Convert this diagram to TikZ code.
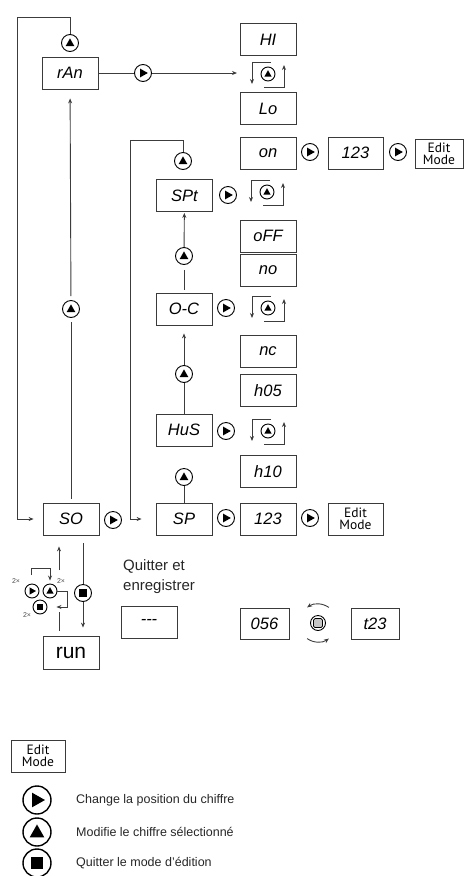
\documentclass[tikz,border=0pt]{standalone}
\usepackage{fontspec}
\setmainfont{Liberation Sans}
\newfontfamily\segfont{Liberation Sans}
\newfontfamily\editfont{PT Sans}
\usetikzlibrary{arrows.meta,calc}
\definecolor{lc}{HTML}{3C3C3C}
\definecolor{bc}{HTML}{3A3A3A}
\newcommand{\cycsym}[3]{%
  \node[bU=7pt] (#1) at (#2,#3) {};
  \draw[arr] ([shift={(3pt,12pt)}]#1.center) -| ([shift={(-16pt,-10pt)}]#1.center);
  \draw[arr] ([shift={(-4pt,-13pt)}]#1.center) -| ([shift={(16pt,9pt)}]#1.center);}
\begin{document}
\begin{tikzpicture}[x=1pt,y=-1pt,
  seg/.style={draw=bc, line width=0.8pt, minimum width=56pt, minimum height=32pt, inner sep=0pt,
    font=\segfont\itshape\fontsize{16.5}{16.5}\selectfont},
  ed/.style={draw=bc, line width=0.8pt, inner sep=0pt, align=center,
    font=\editfont\fontsize{13.5}{12}\selectfont},
  ln/.style={draw=lc, line width=0.9pt},
  arr/.style={ln, -{Stealth[length=5pt,width=4pt]}},
  btn/.style={circle, draw=black, line width=0.9pt, inner sep=0pt},
  bR/.style={btn, minimum size=2*#1, path picture={\fill[black]
    ($(path picture bounding box.center)+(-0.35*#1,0.52*#1)$) -- ++(0.92*#1,-0.52*#1) -- ++(-0.92*#1,-0.52*#1) -- cycle;}},
  bR/.default=8.5pt,
  bU/.style={btn, minimum size=2*#1, path picture={\fill[black]
    ($(path picture bounding box.center)+(-0.52*#1,-0.38*#1)$) -- ++(1.04*#1,0) -- ++(-0.52*#1,0.92*#1) -- cycle;}},
  bU/.default=8.5pt,
  bS/.style={btn, minimum size=2*#1, path picture={\fill[black]
    ($(path picture bounding box.center)+(-0.45*#1,-0.45*#1)$) rectangle ++(0.9*#1,0.9*#1);}},
  bS/.default=8.5pt,
  small/.style={font=\fontsize{7}{7}\selectfont, text=black!70, inner sep=0pt},
  leg/.style={anchor=west, inner sep=0pt, font=\fontsize{12.5}{14}\selectfont, text=black!85}
]
\useasboundingbox (0,0) rectangle (464,876);

% ---------- boxes ----------
\node[seg] (rAn) at (70,73) {rAn};
\node[seg] (HI) at (268,39.5) {HI};
\node[seg] (Lo) at (268,108.5) {Lo};
\node[seg] (on) at (268,153) {on};
\node[seg, minimum width=55pt] (on123) at (355.5,153) {123};
\node[ed, minimum width=48pt, minimum height=29pt] (edit1) at (439,153.5) {Edit\\Mode};
\node[seg] (SPt) at (184.5,195.5) {SPt};
\node[seg] (oFF) at (268,236) {oFF};
\node[seg] (no) at (268,270.5) {no};
\node[seg] (OC) at (184,309) {O-C};
\node[seg] (nc) at (268,351) {nc};
\node[seg] (h05) at (268,390.5) {h05};
\node[seg] (HuS) at (184,430) {HuS};
\node[seg] (h10) at (268,471.5) {h10};
\node[seg] (SO) at (71,519) {SO};
\node[seg] (SP) at (184,519) {SP};
\node[seg] (sp123) at (268,519) {123};
\node[ed, minimum width=55pt, minimum height=32pt] (edit2) at (355.5,519) {Edit\\Mode};
\node[seg] (dashes) at (149,622) {\raisebox{-3pt}{---}};
\node[draw=bc, line width=0.8pt, minimum width=56pt, minimum height=33pt, inner sep=0pt,
  font=\fontsize{21}{21}\selectfont] (run) at (71,652.5) {run};
\node[seg, minimum width=49pt, minimum height=31pt] (v056) at (264.5,623.5) {056};
\node[seg, minimum width=48pt, minimum height=31pt] (t23) at (375,623.5) {t23};
\node[ed, minimum width=54pt, minimum height=32pt] (editL) at (38,756) {Edit\\Mode};

% ---------- buttons ----------
\node[bU] (up1) at (70,43) {};
\node[bR] (r1) at (143,73) {};
\cycsym{cyc1}{268}{74}
\node[bU] (upspt) at (183,161) {};
\node[bR] (ron) at (310,152) {};
\node[bR] (r123) at (398,152) {};
\node[bR] (rspt) at (228,195) {};
\cycsym{cyc2}{267}{192}
\node[bU] (up2) at (184,256) {};
\node[bR] (roc) at (226,308) {};
\cycsym{cyc3}{268}{308}
\node[bU] (up3) at (184,374) {};
\node[bR] (rhus) at (226,431) {};
\cycsym{cyc4}{268}{431}
\node[bU] (up4) at (184,477) {};
\node[bR] (rsp) at (226,518) {};
\node[bR] (rsp123) at (310,518) {};
\node[bR] (rso) at (113,520) {};
\node[bU] (upL) at (71,309) {};
\node[bS] (stop1) at (83,593) {};
\node[bR=7pt] (cr) at (32,591) {};
\node[bU=7pt] (cu) at (50,591) {};
\node[bS=7pt] (cs) at (40,607) {};
\node[circle, draw=black, line width=0.9pt, minimum size=15pt, inner sep=0pt,
  path picture={\filldraw[fill=gray!45, draw=black, line width=0.7pt, rounded corners=1.5pt]
   ($(path picture bounding box.center)+(-4.5pt,-4.5pt)$) rectangle ++(9pt,9pt);}] (knob) at (318,623) {};
\node[bR=14pt, line width=1.4pt] (lr) at (37,800) {};
\node[bU=14pt, line width=1.4pt] (lu) at (37,832) {};
\node[bS=14pt, line width=1.4pt] (ls) at (37,863) {};

% ---------- texts ----------
\node[anchor=base west, inner sep=0pt, font=\fontsize{15}{20}\selectfont, text=black!85] (q1) at (123,570) {Quitter et};
\node[anchor=base west, inner sep=0pt, font=\fontsize{15}{20}\selectfont, text=black!85] (q2) at (123,590) {enregistrer};
\node[small] (x1) at (16,581) {2\texttimes};
\node[small] (x2) at (61,581) {2\texttimes};
\node[small] (x3) at (27,615) {2\texttimes};
\node[leg] (t1) at (76,800) {Change la position du chiffre};
\node[leg] (t2) at (76,832) {Modifie le chiffre sélectionné};
\node[leg] (t3) at (76,863) {Quitter le mode d'édition};

% ---------- coordinates ----------
\coordinate (tl) at (17,17);
\coordinate (a1) at (237,73);
\coordinate (lp) at (130,140);
\coordinate (ca) at (59,570);
\coordinate (cb) at (59,612);
\coordinate (cl1) at (31,575);
\coordinate (cl2) at (31,568);

% ---------- connectors ----------
\draw[arr, shorten >=9pt] (up1.north) |- (tl) |- (SO.west);
\draw[ln] (rAn) -- (r1);
\draw[arr] (r1) -- (a1);
\draw[arr, shorten <=4pt, shorten >=9pt] (upL) -- (rAn);
\draw[ln, shorten <=4pt, shorten >=4pt] (SO) -- (upL);
\draw[arr, shorten >=14pt] (upspt.north) |- (lp) |- (SP.west);
\draw[arr, shorten >=1pt] (up2) -- (SPt);
\draw[ln, shorten <=5pt, shorten >=3pt] (up2) -- (OC);
\draw[arr, shorten >=8pt] (up3) -- (OC);
\draw[ln] (up3) -- (HuS);
\draw[ln] (up4) -- (SP);
\draw[arr, shorten >=11pt] (ca) -- (ca |- SO.south);
\draw[ln, shorten <=8pt] (SO.south -| stop1) -- (stop1);
\draw[arr, shorten >=8pt] (stop1) -- (stop1 |- run.north);
\draw[ln, shorten >=5pt] (cb) -- (cb |- run.north);
\draw[arr, shorten >=3pt] (cl1) -- (cl2) -| (cu.north);
\draw[arr, shorten >=9pt] (cu.east) -- ++(10,0) |- (cs.east);
\draw[arr] ([shift={(55:19pt)}]knob.center) arc[start angle=55, end angle=125, radius=19pt];
\draw[arr] ([shift={(235:19pt)}]knob.center) arc[start angle=235, end angle=305, radius=19pt];
\end{tikzpicture}
\end{document}
